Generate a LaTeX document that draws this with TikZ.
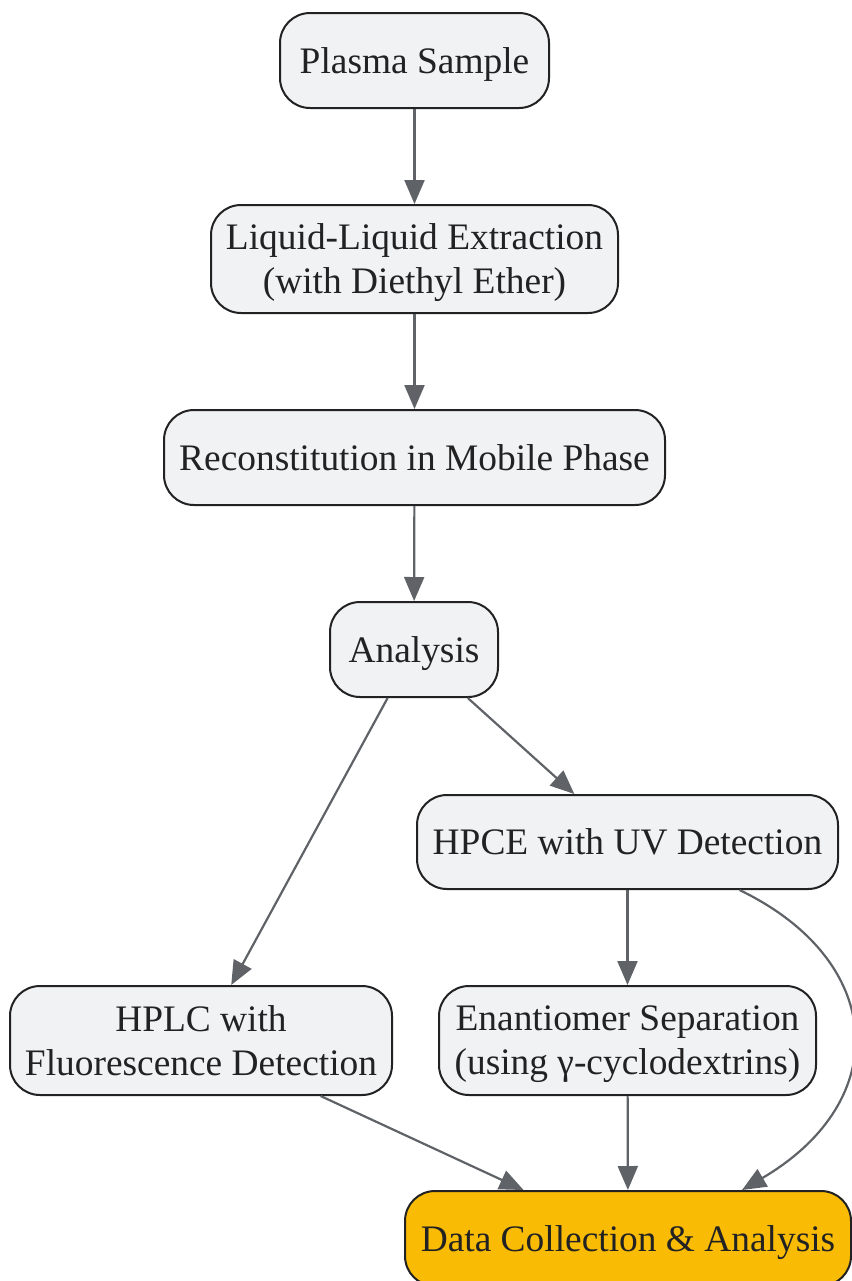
\documentclass[tikz,border=0pt]{standalone}
\usepackage{fontspec}
\setmainfont{Liberation Serif}
\usetikzlibrary{arrows.meta,calc}
\definecolor{boxfill}{HTML}{F1F2F4}
\definecolor{boxline}{HTML}{222222}
\definecolor{arrowgray}{HTML}{5F6368}
\definecolor{datayellow}{HTML}{FABB05}

\begin{document}
\begin{tikzpicture}[x=0.5pt,y=-0.5pt,
    stepbox/.style={draw=boxline, line width=1pt, fill=boxfill, rounded corners=15pt,
        align=center, inner sep=0pt, text=boxline, text depth=0pt,
        font=\fontsize{18.7}{22}\selectfont},
    databox/.style={stepbox, fill=datayellow},
    flowarrow/.style={draw=arrowgray, line width=1.1pt,
        -{Triangle[length=12pt,width=10pt]}}]

        % page frame
        \useasboundingbox (0,0) rectangle (852,1281);

        % Sample preparation
        \node[stepbox, minimum width=134.5pt, minimum height=47.5pt] (plasma) at (414.5,60.5) {Plasma Sample};
        \node[stepbox, minimum width=203.5pt, minimum height=54pt] (lle) at (414.5,259) {Liquid-Liquid Extraction\\(with Diethyl Ether)};
        \node[stepbox, minimum width=250.5pt, minimum height=47.5pt] (recon) at (414.5,457.5) {Reconstitution in Mobile Phase};
        \node[stepbox, minimum width=84pt, minimum height=47.5pt] (analysis) at (414,649.5) {Analysis};

        % Analysis methods
        \node[stepbox, minimum width=210.5pt, minimum height=47pt] (hpce) at (627.5,842) {HPCE with UV Detection};
        \node[stepbox, minimum width=191pt, minimum height=54.5pt] (hplc) at (201,1040.5) {HPLC with\\Fluorescence Detection};
        \node[stepbox, minimum width=188.5pt, minimum height=54.5pt] (enant) at (627.5,1040.5) {Enantiomer Separation\\(using γ-cyclodextrins)};

        % Result
        \node[databox, minimum width=223pt, minimum height=47.5pt] (data) at (628,1238.5) {Data Collection \& Analysis};

        % Connectors
        \draw[flowarrow] (plasma) -- (lle);
        \draw[flowarrow] (lle) -- (recon);
        \draw[flowarrow] (recon) -- (analysis);
        \draw[flowarrow] (analysis) -- (hplc);
        \draw[flowarrow] (analysis) -- (hpce);
        \draw[flowarrow] (hpce) -- (enant);
        \draw[flowarrow] (hplc) -- (data);
        \draw[flowarrow] (enant) -- (data);
        \draw[flowarrow] ($(hpce.south)+(112,0)$) .. controls (885,960) and (895,1100) .. ($(data.north)+(114,0)$);

\end{tikzpicture}
\end{document}
